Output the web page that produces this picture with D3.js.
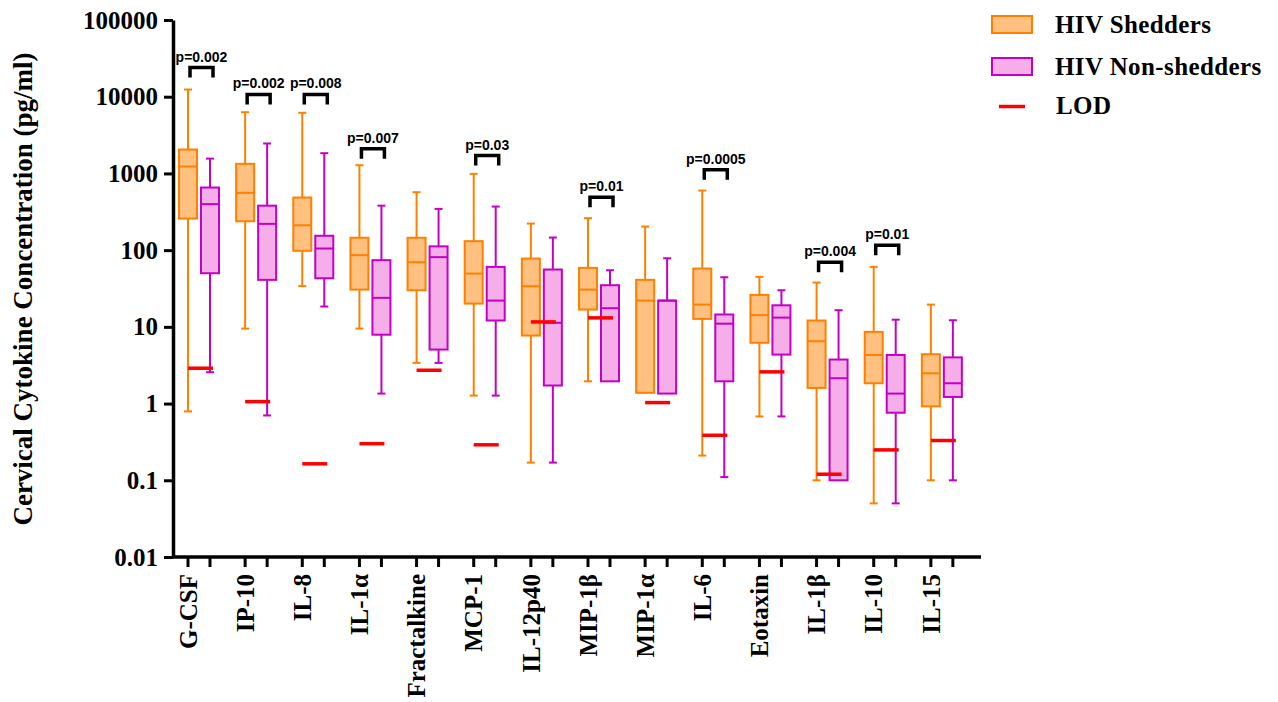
<!DOCTYPE html>
<html>
<head>
<meta charset="utf-8">
<script src="https://cdn.jsdelivr.net/npm/d3@7"></script>
<style>
  html, body { margin: 0; padding: 0; background: #fff; }
  svg { display: block; }
</style>
</head>
<body>
<svg id="chart" width="1278" height="702"></svg>
<script>
// ---------------- DATA ----------------
const categories = ["G-CSF","IP-10","IL-8","IL-1α","Fractalkine","MCP-1","IL-12p40","MIP-1β","MIP-1α","IL-6","Eotaxin","IL-1β","IL-10","IL-15"];
const seriesNames = ["HIV Shedders", "HIV Non-shedders"];
// [min, q1, median, q3, max]
const shedders = [
  [0.79, 258, 1230, 2050, 12400],
  [9.5, 238, 558, 1334, 6280],
  [34, 98, 211, 485, 6170],
  [9.5, 30.6, 86, 145, 1280],
  [3.39, 30, 69.5, 145, 569],
  [1.27, 20.1, 49.5, 131, 988],
  [0.17, 7.7, 33.8, 77.7, 222],
  [1.95, 16.8, 30.6, 58.8, 261],
  [1.38, 1.38, 22, 41, 203],
  [0.21, 12.7, 19.5, 57.6, 598],
  [0.68, 6.2, 14.2, 26.1, 44.9],
  [0.1, 1.6, 6.5, 12.1, 37.8],
  [0.05, 1.84, 4.3, 8.6, 60.5],
  [0.1, 0.92, 2.48, 4.4, 19.5]
];
const nonShedders = [
  [2.56, 50, 398, 655, 1560],
  [0.70, 41, 220, 380, 2455],
  [18.4, 43, 105, 154, 1835],
  [1.35, 7.9, 23.9, 74, 380],
  [3.39, 5.06, 81, 112, 345],
  [1.27, 12.1, 22, 60.5, 370],
  [0.17, 1.72, 11.3, 55.9, 146],
  [1.95, 1.95, 17.5, 34.9, 54.7],
  [1.35, 1.35, 22, 22, 78.4],
  [0.11, 1.95, 11, 14.5, 44.3],
  [0.68, 4.35, 13.2, 19.1, 30],
  [0.1, 0.1, 2.14, 3.75, 16.5],
  [0.05, 0.76, 1.35, 4.3, 12.4],
  [0.1, 1.22, 1.84, 4.0, 12.2]
];
const lod = [2.89, 1.06, 0.164, 0.30, 2.72, 0.29, 11.6, 13.1, 1.03, 0.386, 2.59, 0.12, 0.249, 0.33];
const pLabels = ["p=0.002","p=0.002","p=0.008","p=0.007",null,"p=0.03",null,"p=0.01",null,"p=0.0005",null,"p=0.004","p=0.01",null];
const pLevels = [24000, 10700, 10700, 2090, null, 1710, null, 490, null, 1120, null, 69.5, 116, null];
const yTicks = [0.01, 0.1, 1, 10, 100, 1000, 10000, 100000];
const yTickLabels = ["0.01","0.1","1","10","100","1000","10000","100000"];
const yTitle = "Cervical Cytokine Concentration (pg/ml)";

// ---------------- STYLE ----------------
const colors = {
  S: { stroke: "#ff8000", fill: "#ffc080" },
  N: { stroke: "#c400c4", fill: "#f5aee8" }
};
const serif = "'Liberation Serif','Times New Roman',serif";
const sans = "'Liberation Sans',Arial,sans-serif";

const svg = d3.select("#chart");
const y = d3.scaleLog().domain([0.01, 100000]).range([557, 20]);
const x = d3.scaleBand().domain(categories).range([173, 973]).padding(0);
const xs = d3.scalePoint().domain(["S", "N"]).range([15, 37]);
const boxW = 18, capW = 8;

// ---------------- AXES ----------------
const yAxis = d3.axisLeft(y)
  .tickValues(yTicks)
  .tickFormat((d, i) => yTickLabels[i])
  .tickSize(9).tickSizeOuter(0).tickPadding(6);
const gy = svg.append("g").attr("transform", "translate(173,0)").call(yAxis);
gy.select(".domain").attr("stroke", "#000").attr("stroke-width", 3.5);
gy.selectAll(".tick line").attr("stroke", "#000").attr("stroke-width", 3);
gy.selectAll(".tick text")
  .attr("font-family", serif).attr("font-weight", "bold")
  .attr("font-size", 25).attr("fill", "#000");

// x axis line
svg.append("line")
  .attr("x1", x.range()[0]).attr("x2", x.range()[1] + 8)
  .attr("y1", y(0.01)).attr("y2", y(0.01))
  .attr("stroke", "#000").attr("stroke-width", 3.5);

// x ticks at each box
const tickPos = [];
categories.forEach(c => ["S", "N"].forEach(s => tickPos.push(x(c) + xs(s))));
svg.append("g").selectAll("line").data(tickPos).join("line")
  .attr("x1", d => d).attr("x2", d => d)
  .attr("y1", y(0.01)).attr("y2", y(0.01) + 10)
  .attr("stroke", "#000").attr("stroke-width", 3);

// x labels
svg.append("g").selectAll("text").data(categories).join("text")
  .attr("transform", d => `translate(${x(d) + xs("S")},${y(0.01) + 17}) rotate(-90)`)
  .attr("dy", "0.35em")
  .attr("text-anchor", "end")
  .attr("font-family", serif).attr("font-weight", "bold").attr("font-size", 25)
  .text(d => d);

// y title
svg.append("text")
  .attr("transform", "translate(23,289) rotate(-90)")
  .attr("dy", "0.35em")
  .attr("text-anchor", "middle")
  .attr("font-family", serif).attr("font-weight", "bold").attr("font-size", 27)
  .text(yTitle);

// ---------------- BOXES ----------------
function drawBoxes(data, key) {
  const c = colors[key];
  const g = svg.append("g");
  data.forEach((st, i) => {
    const cx = x(categories[i]) + xs(key);
    const [mn, q1, md, q3, mx] = st;
    g.append("line").attr("x1", cx).attr("x2", cx).attr("y1", y(q3)).attr("y2", y(mx))
      .attr("stroke", c.stroke).attr("stroke-width", 2);
    g.append("line").attr("x1", cx).attr("x2", cx).attr("y1", y(q1)).attr("y2", y(mn))
      .attr("stroke", c.stroke).attr("stroke-width", 2);
    g.append("line").attr("x1", cx - capW / 2).attr("x2", cx + capW / 2).attr("y1", y(mx)).attr("y2", y(mx))
      .attr("stroke", c.stroke).attr("stroke-width", 2);
    if (mn < q1) {
      g.append("line").attr("x1", cx - capW / 2).attr("x2", cx + capW / 2).attr("y1", y(mn)).attr("y2", y(mn))
        .attr("stroke", c.stroke).attr("stroke-width", 2);
    }
    g.append("rect").attr("x", cx - boxW / 2).attr("width", boxW)
      .attr("y", y(q3)).attr("height", y(q1) - y(q3))
      .attr("fill", c.fill).attr("stroke", c.stroke).attr("stroke-width", 2);
    g.append("line").attr("x1", cx - boxW / 2).attr("x2", cx + boxW / 2).attr("y1", y(md)).attr("y2", y(md))
      .attr("stroke", c.stroke).attr("stroke-width", 2);
  });
}
drawBoxes(shedders, "S");
drawBoxes(nonShedders, "N");

// LOD
svg.append("g").selectAll("line").data(lod).join("line")
  .attr("x1", (d, i) => x(categories[i]) + (xs("S") + xs("N")) / 2 + 1.5 - 12.5)
  .attr("x2", (d, i) => x(categories[i]) + (xs("S") + xs("N")) / 2 + 1.5 + 12.5)
  .attr("y1", d => y(d)).attr("y2", d => y(d))
  .attr("stroke", "#ff0000").attr("stroke-width", 3.5);

// p-value brackets
const pg = svg.append("g");
categories.forEach((c, i) => {
  if (!pLabels[i]) return;
  const x1 = x(c) + xs("S") + 2, x2 = x(c) + xs("N") + 3;
  const yt = y(pLevels[i]);
  pg.append("path")
    .attr("d", `M${x1},${yt + 10}V${yt}H${x2}V${yt + 10}`)
    .attr("fill", "none").attr("stroke", "#000").attr("stroke-width", 3.5);
  pg.append("text")
    .attr("x", (x1 + x2) / 2).attr("y", yt - 6)
    .attr("text-anchor", "middle")
    .attr("font-family", sans).attr("font-weight", "bold").attr("font-size", 14)
    .text(pLabels[i]);
});

// ---------------- LEGEND ----------------
const leg = svg.append("g");
[["S", 16], ["N", 58]].forEach(([k, yy], j) => {
  leg.append("rect").attr("x", 992).attr("y", yy).attr("width", 40).attr("height", 17)
    .attr("fill", colors[k].fill).attr("stroke", colors[k].stroke).attr("stroke-width", 2);
  leg.append("text").attr("x", 1055).attr("y", yy + 17)
    .attr("font-family", serif).attr("font-weight", "bold").attr("font-size", 25)
    .attr("letter-spacing", 0.4)
    .text(seriesNames[j]);
});
leg.append("line").attr("x1", 999).attr("x2", 1025).attr("y1", 106.5).attr("y2", 106.5)
  .attr("stroke", "#ff0000").attr("stroke-width", 3.5);
leg.append("text").attr("x", 1056).attr("y", 114)
  .attr("font-family", serif).attr("font-weight", "bold").attr("font-size", 25)
  .attr("letter-spacing", 0.4)
  .text("LOD");
</script>
</body>
</html>
